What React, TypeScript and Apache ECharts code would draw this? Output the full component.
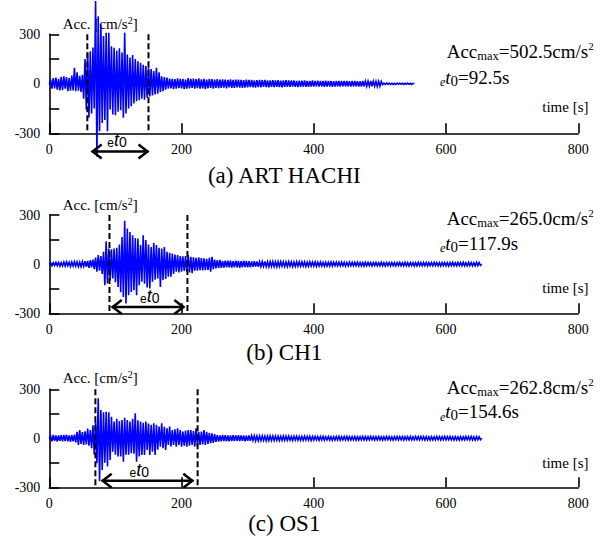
import React, { useEffect, useRef } from 'react';
import * as echarts from 'echarts';

// ---------- data ----------
const DT = 2; // sampling step of the digitised records [s]
const X_MIN = 0;
const X_MAX = 800;
const X_INTERVAL = 200;
const Y_MIN = -300;
const Y_MAX = 300;
const Y_INTERVAL = 150;
const Y_LABELS = [-300, 0, 300];

const panelNames = ['(a) ART HACHI', '(b) CH1', '(c) OS1'];
const accMaxValues = ['502.5', '265.0', '262.8'];
const et0Values = ['92.5', '117.9', '154.6'];
const windowStart = [57.5, 91.0, 69.7];
const windowEnd = [150.0, 208.9, 224.3];
const arrowStart = [64, 94.4, 79.2];
const arrowEnd = [150, 204.2, 217.8];
const arrowLevel = [-410, -262, -260];
const arrowLabelAt = [102.5, 152, 136];

// (a) ART HACHI, acceleration [cm/s2], every 2 s
const artHachi = [
  0, 25, -30, 35, -28, 38, -35, 30, -40, 42,
  -38, 45, -30, 40, -45, 35, -42, 50, -40, 97,
  -45, 70, -42, 48, -50, 55, -90, 150, -156, 190,
  -205, 197, -180, 220, -150, 502, -440, 410, -287, 360,
  -237, 290, -220, 309, -287, 309, -156, 228, -186, 218,
  -190, 200, -170, 215, -160, 190, -205, 309, -180, 178,
  -150, 160, -136, 175, -120, 150, -106, 137, -100, 127,
  -90, 115, -96, 107, -85, 100, -76, 90, -70, 77,
  -65, 97, -60, 70, -50, 46, -45, 40, -35, 37,
  -30, 32, -28, 30, -32, 28, -30, 33, -27, 30,
  -28, 30, -32, 26, -30, 35, -28, 30, -25, 32,
  -30, 28, -26, 33, -30, 27, -28, 30, -32, 25,
  -27, 30, -25, 28, -30, 26, -24, 29, -27, 25,
  -25, 27, -23, 26, -28, 24, -22, 27, -25, 23,
  -24, 25, -22, 26, -23, 24, -25, 22, -23, 25,
  -22, 23, -20, 24, -22, 21, -23, 22, -20, 24,
  -21, 22, -19, 23, -20, 21, -22, 20, -19, 22,
  -20, 21, -18, 22, -20, 19, -21, 20, -18, 22,
  -19, 20, -18, 21, -17, 20, -19, 18, -20, 19,
  -18, 19, -17, 20, -18, 17, -19, 18, -17, 20,
  -17, 18, -16, 19, -17, 18, -16, 17, -18, 19,
  -17, 18, -16, 17, -18, 16, -17, 18, -16, 17,
  -16, 17, -15, 18, -16, 17, -15, 16, -17, 18,
  -16, 17, -15, 16, -17, 15, -16, 17, -15, 16,
  -15, 16, -14, 17, -15, 16, -14, 15, -16, 15,
  -15, 14, -5, 4, -4, 5, -3, 4, -4, 3,
  -4, 3, -4, 4, -3, 4, -3, 3, -4, 3,
  -3, 4, -3, 3, -4, 3, 0,
];

// (b) CH1
const ch1 = [
  0, 8, -10, 9, -8, 11, -9, 10, -12, 9,
  -11, 13, -12, 14, -10, 12, -14, 13, -12, 15,
  -13, 14, -15, 12, -16, 15, -14, 18, -17, 20,
  -22, 25, -20, 28, -30, 40, -46, 55, -40, 50,
  -60, 75, -128, 140, -118, 95, -100, 90, -87, 96,
  -110, 100, -140, 120, -171, 166, -200, 265, -240, 218,
  -189, 196, -170, 177, -159, 160, -189, 157, -128, 116,
  -108, 177, -120, 147, -143, 120, -149, 105, -108, 130,
  -95, 116, -87, 100, -140, 95, -97, 105, -90, 75,
  -77, 70, -77, 65, -60, 58, -46, 55, -50, 50,
  -46, 48, -42, 50, -46, 55, -50, 45, -55, 42,
  -40, 38, -40, 42, -36, 37, -38, 35, -37, 33,
  -35, 38, -46, 45, -30, 28, -26, 25, -24, 26,
  -22, 20, -21, 22, -19, 21, -20, 22, -21, 19,
  -20, 21, -19, 20, -22, 19, -20, 21, -18, 20,
  -19, 18, -20, 17, -16, 18, -15, 17, -16, 15,
  -15, 16, -14, 17, -15, 14, -16, 15, -14, 16,
  -15, 14, -16, 15, -14, 15, -13, 14, -15, 14,
  -14, 15, -13, 14, -15, 13, -14, 15, -13, 14,
  -13, 14, -12, 13, -14, 12, -13, 14, -12, 13,
  -12, 13, -13, 12, -11, 13, -12, 11, -13, 12,
  -12, 11, -12, 13, -11, 12, -10, 12, -11, 12,
  -11, 12, -10, 11, -12, 10, -11, 12, -10, 11,
  -10, 11, -10, 12, -11, 10, -11, 10, -12, 11,
  -10, 11, -9, 10, -11, 10, -9, 11, -10, 9,
  -10, 11, -10, 9, -11, 10, -9, 10, -11, 10,
  -9, 10, -11, 10, -9, 11, -10, 9, -10, 11,
  -10, 9, -11, 10, -9, 10, -11, 9, -10, 11,
  -9, 10, -10, 11, -9, 10, -11, 10, -9, 10,
  -10, 11, -9, 10, -10, 9, -11, 10, -9, 10,
  -10, 9, -11, 10, -9, 11, -10, 9, -10, 11,
  -9, 10, -10, 11, -10, 9, -10, 11, -9, 10,
  -10, 9, -10, 11, -9, 10, -8, 0,
];

// (c) OS1
const os1 = [
  0, 15, -18, 20, -16, 18, -20, 17, -15, 19,
  -18, 20, -17, 22, -19, 18, -21, 20, -18, 22,
  -25, 40, -41, 51, -35, 38, -40, 42, -38, 60,
  -45, 50, -60, 80, -100, 102, -153, 245, -262.8, 173,
  -194, 160, -150, 163, -172, 160, -132, 132, -82, 102,
  -100, 120, -112, 105, -112, 112, -143, 125, -100, 112,
  -100, 102, -92, 120, -95, 153, -143, 110, -112, 102,
  -102, 95, -102, 102, -71, 90, -102, 82, -82, 92,
  -102, 82, -70, 72, -51, 92, -61, 70, -71, 61,
  -41, 72, -50, 51, -41, 55, -51, 61, -41, 51,
  -51, 41, -45, 48, -51, 51, -45, 51, -41, 45,
  -51, 61, -45, 40, -41, 41, -38, 51, -41, 40,
  -35, 33, -30, 30, -28, 25, -22, 20, -20, 18,
  -18, 20, -17, 19, -18, 17, -19, 18, -17, 19,
  -17, 18, -16, 19, -17, 18, -16, 17, -18, 16,
  -16, 17, -15, 16, -14, 15, -16, 14, -15, 14,
  -14, 15, -13, 14, -15, 13, -14, 15, -13, 14,
  -13, 14, -12, 13, -14, 12, -13, 14, -12, 13,
  -12, 13, -12, 11, -13, 12, -11, 13, -12, 11,
  -12, 11, -12, 13, -11, 12, -11, 12, -13, 11,
  -11, 12, -10, 11, -12, 11, -10, 12, -11, 10,
  -10, 11, -11, 10, -12, 10, -11, 11, -10, 12,
  -11, 10, -10, 11, -10, 12, -11, 10, -11, 10,
  -10, 11, -12, 10, -11, 10, -10, 11, -10, 11,
  -11, 10, -10, 11, -9, 10, -11, 10, -10, 11,
  -10, 9, -11, 10, -10, 11, -9, 10, -10, 9,
  -11, 10, -9, 11, -10, 10, -9, 10, -11, 10,
  -9, 10, -10, 11, -10, 9, -10, 11, -9, 10,
  -10, 11, -9, 10, -11, 10, -10, 9, -11, 10,
  -10, 9, -10, 11, -9, 10, -11, 10, -9, 11,
  -10, 10, -9, 11, -10, 9, -11, 10, -10, 9,
  -11, 10, -10, 9, -10, 11, -9, 10, -10, 11,
  -10, 9, -11, 10, -9, 10, -9, 0,
];

const records = [artHachi, ch1, os1];

// ---------- layout / style ----------
const SERIF = 'Liberation Serif';
const SANS = 'Liberation Sans';
const GRID_LEFT = 49.3;
const GRID_WIDTH = 529;
const GRID_TOPS = [34.3, 215, 389.3];
const GRID_HEIGHTS = [99, 98.3, 98];
const ACC_LABEL_Y = [24, 205, 378];
const ACC_MAX_Y = [51.7, 218.3, 387.3];
const ET0_Y = [77.3, 243.3, 411.7];
const TIME_Y = [107, 288.3, 462.7];
const CAPTION_Y = [175, 352, 523];

function buildOption() {
  const grids = GRID_TOPS.map((top, k) => ({
    left: GRID_LEFT,
    width: GRID_WIDTH,
    top,
    height: GRID_HEIGHTS[k],
  }));

  const axisLineStyle = { color: '#000', width: 1.6 };

  const xAxes = grids.map((_, k) => ({
    type: 'value',
    gridIndex: k,
    min: X_MIN,
    max: X_MAX,
    interval: X_INTERVAL,
    axisLine: { show: true, onZero: false, lineStyle: axisLineStyle },
    axisTick: { show: true, inside: true, length: 10, lineStyle: axisLineStyle },
    axisLabel: { show: true, margin: 9, color: '#000', fontFamily: SERIF, fontSize: 14 },
    splitLine: { show: false },
  }));

  const yAxes = grids.map((_, k) => ({
    type: 'value',
    gridIndex: k,
    min: Y_MIN,
    max: Y_MAX,
    interval: Y_INTERVAL,
    axisLine: { show: true, onZero: false, lineStyle: axisLineStyle },
    axisTick: { show: true, inside: true, length: 10, lineStyle: axisLineStyle },
    axisLabel: {
      show: true,
      margin: 9,
      color: '#000',
      fontFamily: SERIF,
      fontSize: 14,
      formatter: (v: number) => (Y_LABELS.includes(v) ? String(v) : ''),
    },
    splitLine: { show: false },
  }));

  const waveSeries = records.map((rec, k) => ({
    type: 'line',
    xAxisIndex: k,
    yAxisIndex: k,
    data: rec.map((v, i) => [i * DT, v]),
    showSymbol: false,
    symbol: 'none',
    clip: false,
    silent: true,
    lineStyle: { color: '#0000ff', width: 1.6, join: 'miter' },
    z: 2,
  }));

  const annoSeries = records.map((_, k) => ({
    type: 'custom',
    xAxisIndex: k,
    yAxisIndex: k,
    clip: false,
    silent: true,
    z: 5,
    data: [[windowStart[k], windowEnd[k], arrowStart[k], arrowEnd[k], arrowLevel[k], arrowLabelAt[k]]],
    renderItem: (params: any, api: any) => {
      const t1 = api.value(0);
      const t2 = api.value(1);
      const a1 = api.value(2);
      const a2 = api.value(3);
      const ay = api.value(4);
      const lt = api.value(5);
      const p1a = api.coord([t1, Y_MAX]);
      const p1b = api.coord([t1, Y_MIN]);
      const p2a = api.coord([t2, Y_MAX]);
      const p2b = api.coord([t2, Y_MIN]);
      const pa = api.coord([a1, ay]);
      const pb = api.coord([a2, ay]);
      const pl = api.coord([lt, ay]);
      const dash = { stroke: '#000', lineWidth: 2, lineDash: [6, 3], fill: null };
      const solid = { stroke: '#000', lineWidth: 2.5, fill: null, lineJoin: 'miter' };
      const hw = 10;
      const hh = 7;
      return {
        type: 'group',
        children: [
          { type: 'line', shape: { x1: p1a[0], y1: p1a[1], x2: p1b[0], y2: p1b[1] }, style: dash },
          { type: 'line', shape: { x1: p2a[0], y1: p2a[1], x2: p2b[0], y2: p2b[1] }, style: dash },
          { type: 'line', shape: { x1: pa[0], y1: pa[1], x2: pb[0], y2: pb[1] }, style: solid },
          {
            type: 'polyline',
            shape: { points: [[pa[0] + hw, pa[1] - hh], [pa[0] + 1, pa[1]], [pa[0] + hw, pa[1] + hh]] },
            style: solid,
          },
          {
            type: 'polyline',
            shape: { points: [[pb[0] - hw, pb[1] - hh], [pb[0] - 1, pb[1]], [pb[0] - hw, pb[1] + hh]] },
            style: solid,
          },
          {
            type: 'text',
            style: {
              text: '{e|e}{t|t}{z|0}',
              x: pl[0],
              y: pl[1] - 2,
              align: 'center',
              verticalAlign: 'bottom',
              fill: '#000',
              rich: {
                e: { fontSize: 12, fontFamily: SANS, fill: '#000', lineHeight: 14, verticalAlign: 'bottom' },
                t: { fontSize: 18, fontFamily: SANS, fontStyle: 'italic', fill: '#000', lineHeight: 20, verticalAlign: 'bottom' },
                z: { fontSize: 14, fontFamily: SANS, fill: '#000', lineHeight: 16, verticalAlign: 'bottom' },
              },
            },
          },
        ],
      };
    },
  }));

  const graphics: any[] = [];
  for (let k = 0; k < 3; k++) {
    graphics.push({
      type: 'text',
      x: 62.7,
      y: ACC_LABEL_Y[k],
      z: 1,
      style: {
        text: '{n|Acc. [cm/s}{p|2}{n|]}',
        align: 'left',
        verticalAlign: 'middle',
        fill: '#000',
        fontFamily: SERIF,
        rich: {
          n: { fontSize: 15, fontFamily: SERIF, fill: '#000', lineHeight: 18 },
          p: { fontSize: 10, fontFamily: SERIF, fill: '#000', lineHeight: 13, verticalAlign: 'top' },
        },
      },
    });
    graphics.push({
      type: 'text',
      x: 446.7,
      y: ACC_MAX_Y[k],
      z: 1,
      style: {
        text: `{a|Acc}{s|max}{a|=${accMaxValues[k]}cm/s}{p|2}`,
        align: 'left',
        verticalAlign: 'middle',
        fill: '#000',
        fontFamily: SERIF,
        rich: {
          a: { fontSize: 19, fontFamily: SERIF, fill: '#000', lineHeight: 22 },
          s: { fontSize: 12.5, fontFamily: SERIF, fill: '#000', lineHeight: 12, verticalAlign: 'bottom' },
          p: { fontSize: 11, fontFamily: SERIF, fill: '#000', lineHeight: 13, verticalAlign: 'top' },
        },
      },
    });
    graphics.push({
      type: 'text',
      x: 440,
      y: ET0_Y[k],
      z: 1,
      style: {
        text: `{e|e}{t|t}{z|0}{a|=${et0Values[k]}s}`,
        align: 'left',
        verticalAlign: 'middle',
        fill: '#000',
        fontFamily: SERIF,
        rich: {
          e: { fontSize: 12, fontFamily: SERIF, fontStyle: 'italic', fill: '#000', lineHeight: 11, verticalAlign: 'bottom' },
          t: { fontSize: 19, fontFamily: SERIF, fontStyle: 'italic', fill: '#000', lineHeight: 22 },
          z: { fontSize: 15, fontFamily: SERIF, fill: '#000', lineHeight: 18, verticalAlign: 'bottom' },
          a: { fontSize: 19, fontFamily: SERIF, fill: '#000', lineHeight: 22 },
        },
      },
    });
    graphics.push({
      type: 'text',
      x: 588.5,
      y: TIME_Y[k],
      z: 1,
      style: {
        text: 'time [s]',
        align: 'right',
        verticalAlign: 'middle',
        fill: '#000',
        fontSize: 15,
        fontFamily: SERIF,
      },
    });
    graphics.push({
      type: 'text',
      x: 284.3,
      y: CAPTION_Y[k],
      z: 1,
      style: {
        text: panelNames[k],
        align: 'center',
        verticalAlign: 'middle',
        fill: '#000',
        fontSize: 23,
        fontFamily: SERIF,
      },
    });
  }

  return {
    animation: false,
    backgroundColor: '#ffffff',
    textStyle: { fontFamily: SERIF },
    grid: grids,
    xAxis: xAxes,
    yAxis: yAxes,
    series: [...waveSeries, ...annoSeries],
    graphic: graphics,
  };
}

export default function App() {
  const ref = useRef<HTMLDivElement>(null);
  useEffect(() => {
    if (!ref.current) return;
    const chart = echarts.init(ref.current, null, { renderer: 'svg' });
    chart.setOption(buildOption() as any);
    return () => {
      chart.dispose();
    };
  }, []);
  return (
    <div
      ref={ref}
      style={{ position: 'fixed', left: 0, top: 0, width: 605, height: 540, background: '#fff' }}
    />
  );
}
